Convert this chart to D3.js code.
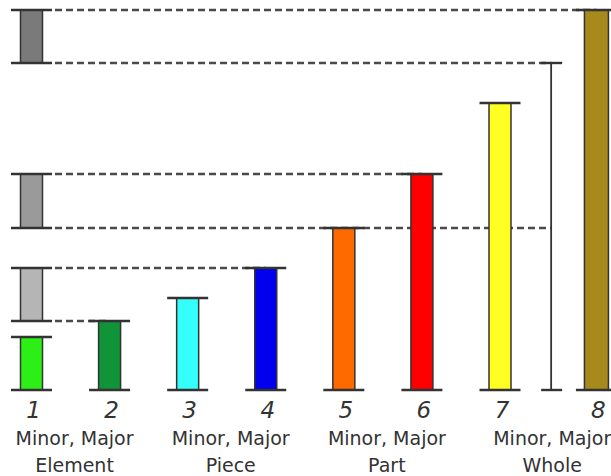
<!DOCTYPE html>
<html>
<head>
<meta charset="utf-8">
<script src="https://cdn.jsdelivr.net/npm/d3@7"></script>
<style>
  body { margin: 0; background: #fff; }
  text { fill: #333; }
</style>
</head>
<body>
<script>
/*** DATA ***/
const numerals = ["1", "2", "3", "4", "5", "6", "7", "8"];
const barValues = [53, 69, 92, 122, 162, 216, 287, 380];
const barColors = ["#2cf015", "#0f9438", "#33ffff", "#0000ee", "#ff6a00", "#ff0000", "#ffff22", "#a8891c"];
const wholeLine = 327;                       // unfilled marker between 7 and 8
const grayBands = [[69, 122], [162, 216], [327, 380]];
const grayColors = ["#b5b5b5", "#9a9a9a", "#7a7a7a"];
const guideLevels = [69, 122, 162, 216, 327, 380];
const guideTargets = ["2", "4", "line", "6", "line", "8"];
const groupTitle = "Minor, Major";
const groupNames = ["Element", "Piece", "Part", "Whole"];

/*** GRAPH ***/
let width = 611, height = 476;

let svg = d3.select("body").append("svg")
  .attr("width", width)
  .attr("height", height);

/* axe y : hauteur des barres */
let y = d3.scaleLinear()
  .domain([0, 380])
  .range([390, 10]);

/* axe x : colonnes 1..7, puis la ligne et la barre 8 plus serrées */
let xp = d3.scalePoint()
  .domain(numerals.slice(0, 7))
  .range([31.5, 500]);
let step = xp.step();
let x = (k) => {
  if (k === "line") return xp("7") + step * 0.655;
  if (k === "8") return xp("7") + step * 1.235;
  return xp(k);
};

let barW = 22, capHalf = 20.5;
let bars = numerals.map((n, i) => ({ n: n, v: barValues[i], c: barColors[i] }));

/* lignes pointillées (derrière) */
svg.selectAll(".guide")
  .data(guideLevels.map((v, i) => ({ v: v, t: guideTargets[i] })))
  .enter().append("line")
  .attr("class", "guide")
  .attr("x1", x("1") + capHalf + 3)
  .attr("x2", (d) => x(d.t))
  .attr("y1", (d) => y(d.v))
  .attr("y2", (d) => y(d.v))
  .style("stroke", "#4a4a4a")
  .style("stroke-width", 2.4)
  .style("stroke-dasharray", "7,4");

/* bandes grises */
let bands = svg.selectAll(".band")
  .data(grayBands.map((b, i) => ({ lo: b[0], hi: b[1], c: grayColors[i] })))
  .enter().append("g")
  .attr("class", "band");

bands.append("rect")
  .attr("x", x("1") - barW / 2)
  .attr("width", barW)
  .attr("y", (d) => y(d.hi))
  .attr("height", (d) => y(d.lo) - y(d.hi))
  .style("fill", (d) => d.c)
  .style("stroke", "#333")
  .style("stroke-width", 1.5);

bands.selectAll(".cap")
  .data((d) => [d.lo, d.hi])
  .enter().append("line")
  .attr("x1", x("1") - capHalf)
  .attr("x2", x("1") + capHalf)
  .attr("y1", (d) => y(d))
  .attr("y2", (d) => y(d))
  .style("stroke", "#333")
  .style("stroke-width", 2.4);

/* barres */
let barG = svg.selectAll(".bar")
  .data(bars)
  .enter().append("g")
  .attr("class", "bar");

barG.append("rect")
  .attr("x", (d) => x(d.n) - (d.n === "8" ? 12 : barW / 2))
  .attr("width", (d) => d.n === "8" ? 24 : barW)
  .attr("y", (d) => y(d.v))
  .attr("height", (d) => y(0) - y(d.v))
  .style("fill", (d) => d.c)
  .style("stroke", "#333")
  .style("stroke-width", 1.5);

barG.selectAll(".cap")
  .data((d) => [{ n: d.n, v: 0 }, { n: d.n, v: d.v }])
  .enter().append("line")
  .attr("x1", (d) => x(d.n) - capHalf)
  .attr("x2", (d) => x(d.n) + capHalf)
  .attr("y1", (d) => y(d.v))
  .attr("y2", (d) => y(d.v))
  .style("stroke", "#333")
  .style("stroke-width", 2.4);

/* ligne verticale entre 7 et 8 */
svg.append("line")
  .attr("x1", x("line")).attr("x2", x("line"))
  .attr("y1", y(wholeLine)).attr("y2", y(0))
  .style("stroke", "#333")
  .style("stroke-width", 1.8);

svg.selectAll(".lcap")
  .data([0, wholeLine])
  .enter().append("line")
  .attr("class", "lcap")
  .attr("x1", x("line") - 10)
  .attr("x2", x("line") + 11)
  .attr("y1", (d) => y(d))
  .attr("y2", (d) => y(d))
  .style("stroke", "#333")
  .style("stroke-width", 2.4);

/* numéros */
svg.selectAll(".num")
  .data(numerals)
  .enter().append("text")
  .attr("class", "num")
  .attr("x", (d) => x(d) + 2)
  .attr("y", 418)
  .attr("text-anchor", "middle")
  .style("font-family", "DejaVu Sans")
  .style("font-style", "italic")
  .style("font-size", "23px")
  .text((d) => d);

/* groupes */
let groupX = (i) => (x(numerals[i * 2]) + x(numerals[i * 2 + 1])) / 2 + 4;

svg.selectAll(".gtitle")
  .data(groupNames)
  .enter().append("text")
  .attr("class", "gtitle")
  .attr("x", (d, i) => groupX(i))
  .attr("y", 445)
  .attr("text-anchor", "middle")
  .style("font-family", "DejaVu Sans")
  .style("font-size", "19px")
  .text(groupTitle);

svg.selectAll(".gname")
  .data(groupNames)
  .enter().append("text")
  .attr("class", "gname")
  .attr("x", (d, i) => groupX(i))
  .attr("y", 472)
  .attr("text-anchor", "middle")
  .style("font-family", "DejaVu Sans")
  .style("font-size", "19px")
  .text((d) => d);
</script>
</body>
</html>
